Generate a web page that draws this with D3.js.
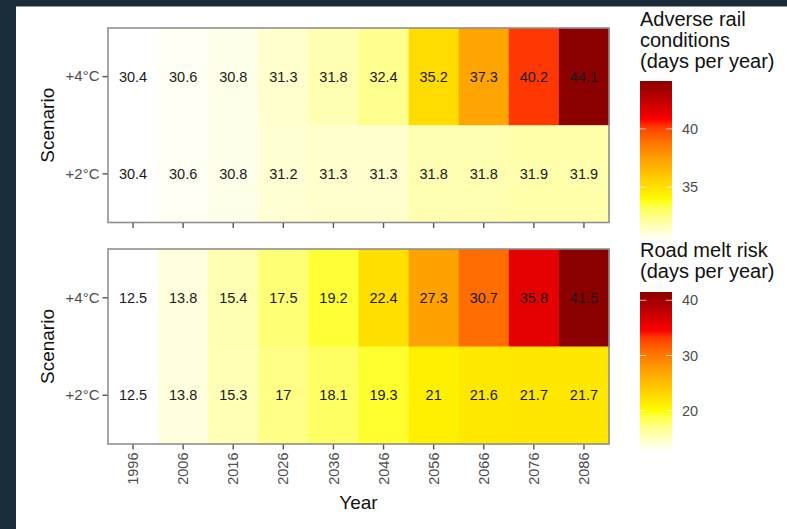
<!DOCTYPE html>
<html>
<head>
<meta charset="utf-8">
<script src="https://cdn.jsdelivr.net/npm/d3@7"></script>
<style>
  html, body { margin: 0; padding: 0; background: #ffffff; }
  svg { display: block; }
  text { font-family: "Liberation Sans", Arial, Helvetica, sans-serif; }
</style>
</head>
<body>
<svg id="chart" width="787" height="529"></svg>
<script>
// ---------------- DATA ----------------
const years = ["1996","2006","2016","2026","2036","2046","2056","2066","2076","2086"];
const scenarios = ["+4°C", "+2°C"];
const railPlus4 = [30.4, 30.6, 30.8, 31.3, 31.8, 32.4, 35.2, 37.3, 40.2, 44.1];
const railPlus2 = [30.4, 30.6, 30.8, 31.2, 31.3, 31.3, 31.8, 31.8, 31.9, 31.9];
const roadPlus4 = [12.5, 13.8, 15.4, 17.5, 19.2, 22.4, 27.3, 30.7, 35.8, 41.5];
const roadPlus2 = [12.5, 13.8, 15.3, 17, 18.1, 19.3, 21, 21.6, 21.7, 21.7];
const railLegendTicks = [35, 40];
const roadLegendTicks = [20, 30, 40];
const railTitle = ["Adverse rail", "conditions", "(days per year)"];
const roadTitle = ["Road melt risk", "(days per year)"];
const paletteColors = ["white", "yellow", "orange", "red", "darkred"];

// ---------------- SETUP ----------------
const svg = d3.select("#chart");
const W = 787, H = 529;
const smallFont = 14.5, yTickFont = 15, titleFont = 19, legendTitleFont = 20;

// dark frame (top and left)
svg.append("rect").attr("x", 0).attr("y", 0).attr("width", W).attr("height", H).attr("fill", "#ffffff");
svg.append("rect").attr("x", 0).attr("y", 0).attr("width", W).attr("height", 6.5).attr("fill", "#1c2b39");
svg.append("rect").attr("x", 0).attr("y", 0).attr("width", 16).attr("height", H).attr("fill", "#1c2b39");

const panelLeft = 108, panelRight = 609;
const x = d3.scaleBand().domain(years).range([panelLeft, panelRight]).padding(0);

function makeColor(values) {
  const ext = d3.extent(values);
  const stops = paletteColors.map((c, i) => ext[0] + (ext[1] - ext[0]) * i / (paletteColors.length - 1));
  return d3.scaleLinear().domain(stops).range(paletteColors).interpolate(d3.interpolateLab).clamp(true);
}

function drawPanel(opts) {
  const { top, bottom, plus4, plus2, showXLabels, legendTitle, titleY, barTop, barBottom, legendTicks } = opts;
  const y = d3.scaleBand().domain(scenarios).range([top, bottom]).padding(0);
  const all = plus4.concat(plus2);
  const color = makeColor(all);
  const rows = [];
  scenarios.forEach((s, si) => {
    const vals = si === 0 ? plus4 : plus2;
    years.forEach((yr, i) => rows.push({ scenario: s, year: yr, value: vals[i] }));
  });

  const g = svg.append("g");
  g.selectAll("rect.cell").data(rows).enter().append("rect")
    .attr("class", "cell")
    .attr("x", d => x(d.year))
    .attr("y", d => y(d.scenario))
    .attr("width", x.bandwidth() + 0.5)
    .attr("height", y.bandwidth() + 0.5)
    .attr("fill", d => color(d.value));

  g.selectAll("text.val").data(rows).enter().append("text")
    .attr("class", "val")
    .attr("x", d => x(d.year) + x.bandwidth() / 2)
    .attr("y", d => y(d.scenario) + y.bandwidth() / 2)
    .attr("dy", "0.36em")
    .attr("text-anchor", "middle")
    .attr("font-size", smallFont)
    .attr("fill", "#1a1a1a")
    .text(d => String(d.value));

  // panel border
  g.append("rect")
    .attr("x", panelLeft).attr("y", top)
    .attr("width", panelRight - panelLeft).attr("height", bottom - top)
    .attr("fill", "none").attr("stroke", "#8f8f8f").attr("stroke-width", 1.6);

  // y axis
  const yAxis = d3.axisLeft(y).tickSize(5).tickPadding(3);
  const ya = svg.append("g").attr("transform", `translate(${panelLeft - 0.5},0)`).call(yAxis);
  ya.select(".domain").remove();
  ya.selectAll(".tick line").attr("stroke", "#555").attr("stroke-width", 1.4);
  ya.selectAll(".tick text").attr("font-size", yTickFont).attr("fill", "#4d4d4d")
    .attr("font-family", '"Liberation Sans", Arial, sans-serif');

  // x axis
  const xAxis = d3.axisBottom(x).tickSize(5).tickPadding(4);
  const xa = svg.append("g").attr("transform", `translate(0,${bottom + 0.5})`).call(xAxis);
  xa.select(".domain").remove();
  xa.selectAll(".tick line").attr("stroke", "#555").attr("stroke-width", 1.4);
  if (showXLabels) {
    xa.selectAll(".tick text")
      .attr("font-size", smallFont).attr("fill", "#4d4d4d")
      .attr("font-family", '"Liberation Sans", Arial, sans-serif')
      .attr("text-anchor", "end")
      .attr("transform", "translate(0,8) rotate(-90)")
      .attr("x", 0).attr("y", 0).attr("dy", "0.35em");
  } else {
    xa.selectAll(".tick text").remove();
  }

  // Scenario title
  svg.append("text")
    .attr("transform", `translate(54,${(top + bottom) / 2}) rotate(-90)`)
    .attr("text-anchor", "middle")
    .attr("font-size", titleFont).attr("fill", "#111")
    .text("Scenario");

  // legend title
  const lt = svg.append("text").attr("font-size", legendTitleFont).attr("fill", "#111");
  legendTitle.forEach((line, i) => {
    lt.append("tspan").attr("x", 640).attr("y", titleY + i * 21).text(line);
  });

  // legend colour bar
  const ext = d3.extent(all);
  const ly = d3.scaleLinear().domain(ext).range([barBottom, barTop]);
  const gradId = "grad" + top;
  const grad = svg.append("defs").append("linearGradient")
    .attr("id", gradId).attr("x1", 0).attr("x2", 0).attr("y1", 1).attr("y2", 0);
  d3.range(0, 1.0001, 0.02).forEach(t => {
    grad.append("stop").attr("offset", t).attr("stop-color", color(ext[0] + t * (ext[1] - ext[0])));
  });
  const barX = 640, barW = 32;
  svg.append("rect").attr("x", barX).attr("y", barTop).attr("width", barW).attr("height", barBottom - barTop)
    .attr("fill", `url(#${gradId})`);
  legendTicks.forEach(v => {
    const yy = ly(v);
    svg.append("line").attr("x1", barX).attr("x2", barX + 6).attr("y1", yy).attr("y2", yy)
      .attr("stroke", "#ffffff").attr("stroke-opacity", 0.7).attr("stroke-width", 1);
    svg.append("line").attr("x1", barX + barW - 6).attr("x2", barX + barW).attr("y1", yy).attr("y2", yy)
      .attr("stroke", "#ffffff").attr("stroke-opacity", 0.7).attr("stroke-width", 1);
    svg.append("text").attr("x", barX + barW + 10).attr("y", yy).attr("dy", "0.36em")
      .attr("font-size", smallFont).attr("fill", "#4d4d4d").text(v);
  });
}

drawPanel({
  top: 28, bottom: 222.5, plus4: railPlus4, plus2: railPlus2, showXLabels: false,
  legendTitle: railTitle, titleY: 25.5, barTop: 81, barBottom: 241, legendTicks: railLegendTicks
});
drawPanel({
  top: 249, bottom: 444, plus4: roadPlus4, plus2: roadPlus2, showXLabels: true,
  legendTitle: roadTitle, titleY: 256.5, barTop: 292, barBottom: 452, legendTicks: roadLegendTicks
});

// x axis title
svg.append("text")
  .attr("x", (panelLeft + panelRight) / 2).attr("y", 509)
  .attr("text-anchor", "middle").attr("font-size", titleFont).attr("fill", "#111")
  .text("Year");
</script>
</body>
</html>
